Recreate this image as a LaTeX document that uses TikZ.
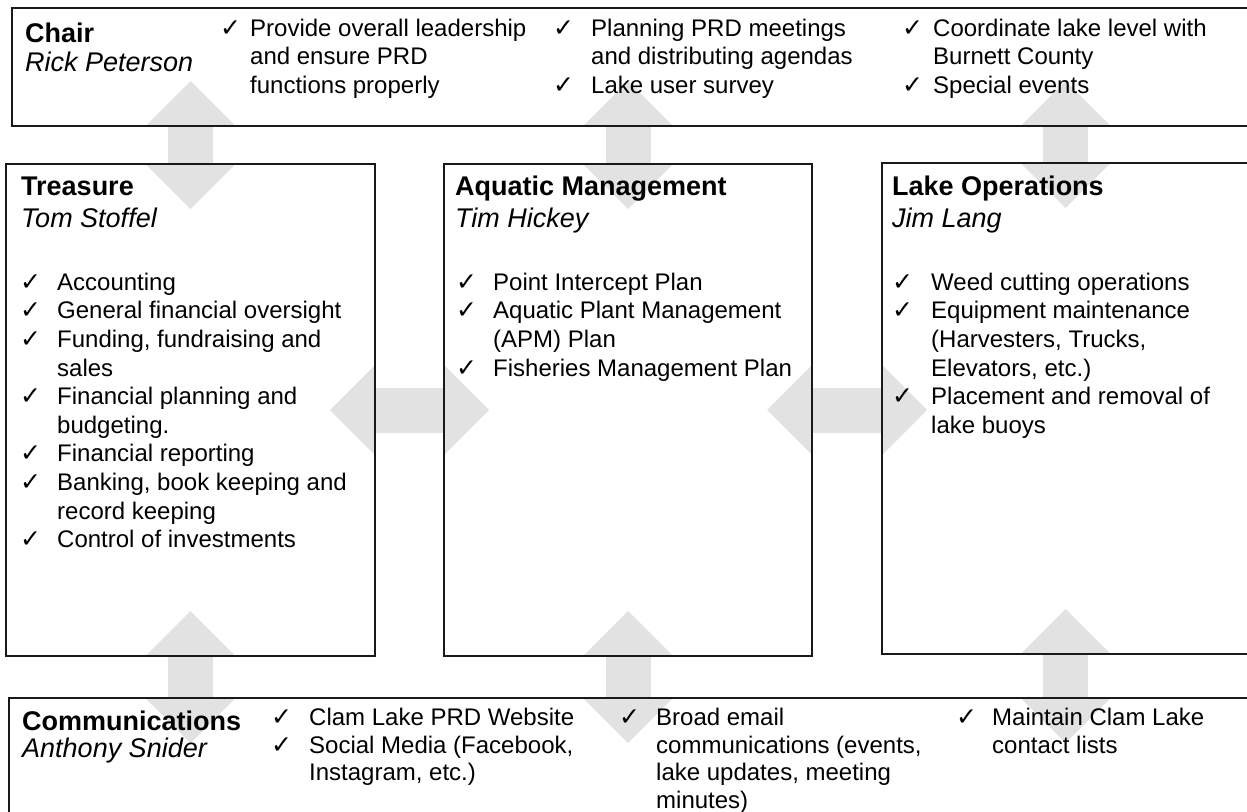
\documentclass[tikz,border=0pt]{standalone}
\usepackage{fontspec}
\setmainfont{Liberation Sans}
\newfontfamily\dejavu{DejaVu Sans}
\usetikzlibrary{arrows.meta,backgrounds}
\definecolor{arrowgray}{RGB}{226,226,226}
\newcommand{\chk}[1]{\makebox[#1pt][l]{\dejavu\fontsize{25}{25}\selectfont ✓}}
\newcommand{\indt}[1]{\hspace*{#1pt}}

\begin{document}
\begin{tikzpicture}[x=1pt, y=-1pt,
  boxed/.style = {draw=black!90, line width=1.8pt, inner sep=0pt, outer sep=0pt, anchor=north west},
  ttl/.style = {inner sep=0pt, anchor=base west, font=\fontsize{27}{31}\selectfont\bfseries},
  who/.style = {inner sep=0pt, anchor=base west, font=\fontsize{27}{31}\selectfont\itshape},
  items/.style = {inner sep=0pt, anchor=north west, align=left, font=\fontsize{24}{28.6}\selectfont},
  dbl/.style = {draw=arrowgray, line width=45pt, >={Triangle[length=45pt 0 0, width=90pt 0 0, line width=0pt]}, <->, shorten <=-45pt, shorten >=-45pt}]
\useasboundingbox (0,0) rectangle (1247,811);
\clip (0,0) rectangle (1247,811);
\node[boxed, minimum width=1237pt, minimum height=118pt] (chair) at (12,8) {};
\node[boxed, minimum width=369pt, minimum height=492pt] (tre) at (6,164) {};
\node[boxed, minimum width=368pt, minimum height=492pt] (aqu) at (444,164) {};
\node[boxed, minimum width=367pt, minimum height=491pt] (lake) at (882,163) {};
\node[boxed, minimum width=1240pt, minimum height=120pt] (comm) at (9,698) {};

\node[ttl] (chairT) at (25,42) {Chair};
\node[who] (chairN) at (25,71) {Rick Peterson};
\node[items] (chairA) at (220,16) {\strut\chk{30}Provide overall leadership\\
  \indt{30}and ensure PRD\\
  \indt{30}functions properly};
\node[items] (chairB) at (553,16) {\strut\chk{38}Planning PRD meetings\\
  \indt{38}and distributing agendas\\
  \chk{38}Lake user survey};
\node[items] (chairC) at (902,16) {\strut\chk{31}Coordinate lake level with\\
  \indt{31}Burnett County\\
  \chk{31}Special events};

\node[ttl] (treT) at (21,195) {Treasure};
\node[who] (treN) at (21,227) {Tom Stoffel};
\node[items] (treL) at (20,270) {\strut\chk{37}Accounting\\
  \chk{37}General financial oversight\\
  \chk{37}Funding, fundraising and\\
  \indt{37}sales\\
  \chk{37}Financial planning and\\
  \indt{37}budgeting.\\
  \chk{37}Financial reporting\\
  \chk{37}Banking, book keeping and\\
  \indt{37}record keeping\\
  \chk{37}Control of investments};

\node[ttl] (aquT) at (455,195) {Aquatic Management};
\node[who] (aquN) at (455,227) {Tim Hickey};
\node[items] (aquL) at (456,270) {\strut\chk{37}Point Intercept Plan\\
  \chk{37}Aquatic Plant Management\\
  \indt{37}(APM) Plan\\
  \chk{37}Fisheries Management Plan};

\node[ttl] (lakeT) at (892,195) {Lake Operations};
\node[who] (lakeN) at (892,227) {Jim Lang};
\node[items] (lakeL) at (892,270) {\strut\chk{39}Weed cutting operations\\
  \chk{39}Equipment maintenance\\
  \indt{39}(Harvesters, Trucks,\\
  \indt{39}Elevators, etc.)\\
  \chk{39}Placement and removal of\\
  \indt{39}lake buoys};

\node[ttl] (commT) at (22,730) {Communications};
\node[who] (commN) at (22,757) {Anthony Snider};
\node[items, font=\fontsize{24}{27.6}\selectfont] (commA) at (271,706) {\strut\chk{38}Clam Lake PRD Website\\
  \chk{38}Social Media (Facebook,\\
  \indt{38}Instagram, etc.)};
\node[items, font=\fontsize{24}{27.6}\selectfont] (commB) at (619,706) {\strut\chk{37}Broad email\\
  \indt{37}communications (events,\\
  \indt{37}lake updates, meeting\\
  \indt{37}minutes)};
\node[items, font=\fontsize{24}{27.6}\selectfont] (commC) at (956,706) {\strut\chk{36}Maintain Clam Lake\\
  \indt{36}contact lists};

\begin{scope}[on background layer]
\draw[dbl] (tre.north) -- (tre.north |- chair.south);
\draw[dbl] (aqu.north) -- (aqu.north |- chair.south);
\draw[dbl] (lake.north) -- (lake.north |- chair.south);
\draw[dbl] (tre.east) -- (aqu.west);
\draw[dbl] (aqu.east) -- (lake.west |- aqu.east);
\draw[dbl] (tre.south) -- (tre.south |- comm.north);
\draw[dbl] (aqu.south) -- (aqu.south |- comm.north);
\draw[dbl] (lake.south) -- (lake.south |- comm.north);
\end{scope}
\end{tikzpicture}
\end{document}
